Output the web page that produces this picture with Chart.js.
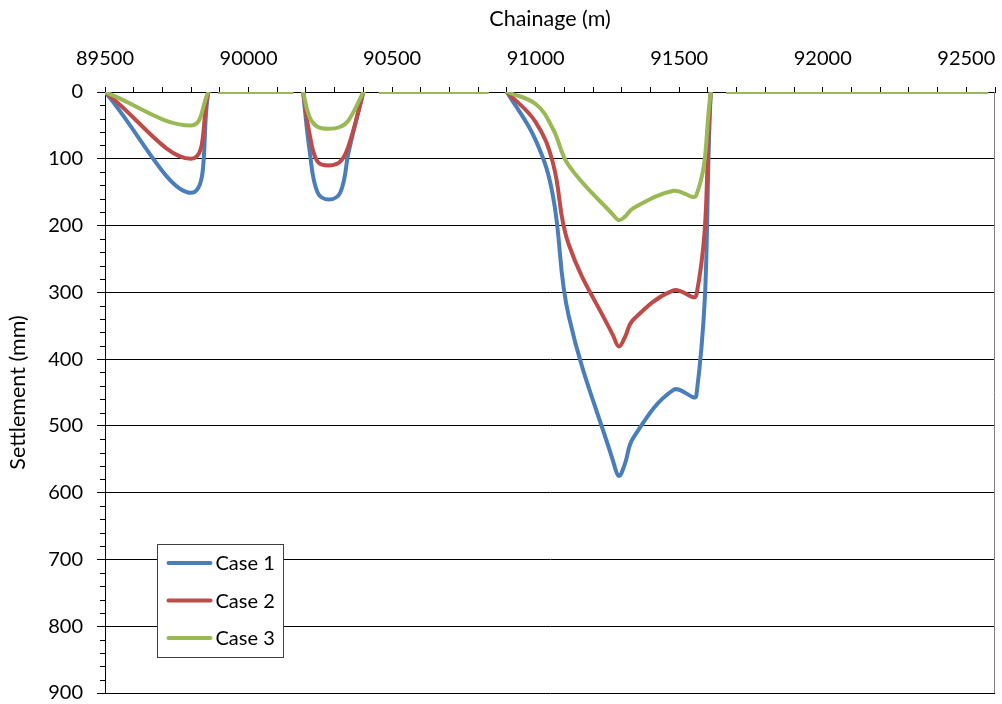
<!DOCTYPE html>
<html>
<head>
<meta charset="utf-8">
<script src="https://cdn.jsdelivr.net/npm/chart.js@4.4.1/dist/chart.umd.min.js"></script>
<style>
  html, body { margin: 0; padding: 0; background: #ffffff; }
  #wrap { width: 1002px; height: 704px; }
</style>
</head>
<body>
<div id="wrap"><canvas id="chart" width="1002" height="704"></canvas></div>
<script>
// Chainage of each survey point (m); a null settlement marks a break in the line
const chainage = [
  89500, 89800, 89860, 89880,
  89900, 90000, 90100, 90150, 90170,
  90190, 90213, 90240, 90280, 90320, 90349, 90400, 90430,
  90460, 90650, 90830, 90865,
  90900, 91000, 91060, 91115, 91270, 91290, 91310, 91340, 91480, 91560, 91610, 91640,
  91670, 92000, 92300, 92570
];

// Settlement (mm) for each case at the chainages above
const case1 = [
  0, 151, 0, null,
  0, 0, 0, 0, null,
  0, 89, 150, 161, 150, 89, 0, null,
  0, 0, 0, null,
  0, 72, 155, 335, 553, 575, 558, 518, 446, 454, 0, null,
  0, 0, 0, 0
];
const case2 = [
  0, 100, 0, null,
  0, 0, 0, 0, null,
  0, 64, 104, 110, 104, 80, 0, null,
  0, 0, 0, null,
  0, 45, 106, 228, 365, 381, 368, 341, 297, 304, 0, null,
  0, 0, 0, 0
];
const case3 = [
  0, 50, 0, null,
  0, 0, 0, 0, null,
  0, 38, 52, 55, 52, 42, 0, null,
  0, 0, 0, null,
  0, 18, 55, 110, 184, 192, 187, 174, 148, 154, 0, null,
  0, 0, 0, 0
];

const seriesNames = ['Case 1', 'Case 2', 'Case 3'];
const seriesColors = ['#4A7EBB', '#BE4B48', '#98B954'];

// Axis ticks
const xLabelled = [89500, 90000, 90500, 91000, 91500, 92000, 92500];
const xTickStep = 100;
const yLabelled = [0, 100, 200, 300, 400, 500, 600, 700, 800, 900];
const yMinorStep = 20;

const FONT = 'Lato';

function toPoints(values) {
  return chainage.map((c, i) => ({ x: c, y: values[i] }));
}

// Short tick marks between the labelled settlement values, plus the right-hand frame
const minorTicks = {
  id: 'minorTicks',
  afterDraw(chart) {
    const ys = chart.scales.y;
    const a = chart.chartArea;
    const ctx = chart.ctx;
    ctx.save();
    ctx.strokeStyle = '#000000';
    ctx.lineWidth = 1;
    ctx.beginPath();
    for (let v = ys.min; v <= ys.max; v += yMinorStep) {
      if (yLabelled.includes(v)) continue;
      const py = Math.round(ys.getPixelForValue(v)) + 0.5;
      ctx.moveTo(a.left - 5, py);
      ctx.lineTo(a.left, py);
    }
    ctx.stroke();
    ctx.strokeStyle = '#7f7f7f';
    ctx.beginPath();
    ctx.moveTo(Math.round(a.right) - 0.5, a.top);
    ctx.lineTo(Math.round(a.right) - 0.5, a.bottom);
    ctx.stroke();
    ctx.restore();
  }
};

// Boxed legend sitting inside the plot area
const boxLegend = {
  id: 'boxLegend',
  afterDraw(chart) {
    const ctx = chart.ctx;
    const a = chart.chartArea;
    const x0 = Math.round(a.left + 52) + 0.5;
    const y0 = Math.round(a.top + 452) + 0.5;
    const w = 126, h = 113;
    ctx.save();
    ctx.fillStyle = '#ffffff';
    ctx.fillRect(x0, y0, w, h);
    ctx.strokeStyle = '#404040';
    ctx.lineWidth = 1;
    ctx.strokeRect(x0, y0, w, h);
    chart.data.datasets.forEach((ds, i) => {
      const cy = y0 + 18.5 + i * 37.5;
      ctx.strokeStyle = ds.borderColor;
      ctx.lineWidth = 4;
      ctx.lineCap = 'round';
      ctx.beginPath();
      ctx.moveTo(x0 + 11, cy);
      ctx.lineTo(x0 + 53, cy);
      ctx.stroke();
      ctx.fillStyle = '#000000';
      ctx.font = '20px ' + FONT;
      ctx.textBaseline = 'middle';
      ctx.textAlign = 'left';
      ctx.fillText(ds.label, x0 + 58, cy + 1);
    });
    ctx.restore();
  }
};

function draw() {
  Chart.defaults.font.family = FONT;
  Chart.defaults.font.size = 20;
  Chart.defaults.color = '#000000';

  const series = [case1, case2, case3];
  const drawOrder = [2, 1, 0];

  new Chart(document.getElementById('chart'), {
    type: 'line',
    data: {
      datasets: series.map((vals, i) => ({
        label: seriesNames[i],
        data: toPoints(vals),
        borderColor: seriesColors[i],
        backgroundColor: seriesColors[i],
        borderWidth: 4,
        borderCapStyle: 'round',
        borderJoinStyle: 'round',
        pointRadius: 0,
        pointHoverRadius: 0,
        tension: 0.4,
        spanGaps: false,
        fill: false,
        clip: 0,
        order: drawOrder[i]
      }))
    },
    options: {
      responsive: false,
      animation: false,
      devicePixelRatio: 1,
      layout: { padding: { left: 0, top: 0, right: 7, bottom: 11 } },
      plugins: {
        legend: { display: false },
        tooltip: { enabled: false },
        title: { display: false }
      },
      scales: {
        x: {
          type: 'linear',
          position: 'top',
          min: 89500,
          max: 92600,
          afterFit: (s) => { s.height = 92; s.paddingLeft = 0; s.paddingRight = 0; },
          border: { display: true, color: '#000000', width: 1 },
          grid: { drawOnChartArea: false, drawTicks: true, tickLength: 5, color: '#000000', tickColor: '#000000' },
          ticks: {
            stepSize: xTickStep,
            autoSkip: false,
            maxRotation: 0,
            minRotation: 0,
            padding: 16,
            color: '#000000',
            font: { size: 20 },
            callback: (v) => (xLabelled.includes(v) ? String(v) : '')
          },
          title: {
            display: true,
            text: 'Chainage (m)',
            color: '#000000',
            font: { size: 21.5 },
            padding: { top: 6.5, bottom: 0 }
          }
        },
        y: {
          type: 'linear',
          position: 'left',
          reverse: true,
          min: 0,
          max: 900,
          afterFit: (s) => { s.width = 105; s.paddingTop = 0; s.paddingBottom = 0; },
          afterBuildTicks: (s) => { s.ticks = yLabelled.map((v) => ({ value: v })); },
          border: { display: true, color: '#000000', width: 1 },
          grid: { color: '#000000', lineWidth: 1, drawTicks: true, tickLength: 8, tickColor: '#000000' },
          ticks: {
            padding: 14,
            color: '#000000',
            font: { size: 20, lineHeight: 1 },
            callback: (v) => String(v)
          },
          title: {
            display: true,
            text: 'Settlement (mm)',
            color: '#000000',
            font: { size: 21.5 },
            padding: { top: 5.5, bottom: 0 }
          }
        }
      }
    },
    plugins: [minorTicks, boxLegend]
  });
}

if (document.fonts && document.fonts.load) {
  document.fonts.load('20px ' + FONT).then(draw, draw);
} else {
  draw();
}
</script>
</body>
</html>
